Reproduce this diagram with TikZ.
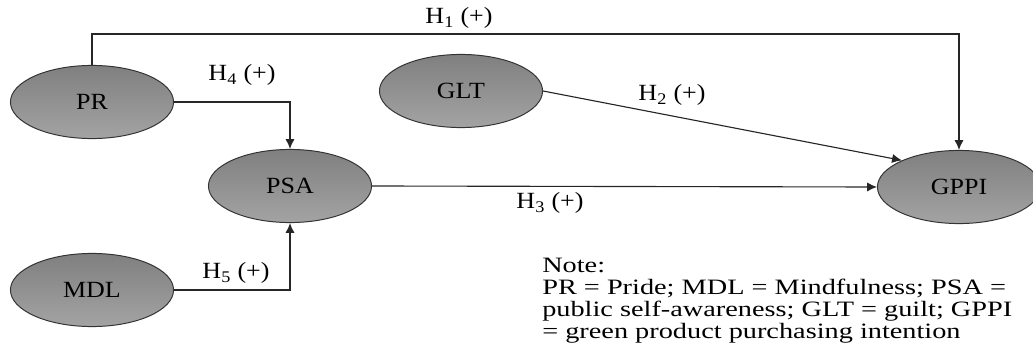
\documentclass[tikz,border=0pt]{standalone}
\usepackage{fontspec}
\setmainfont{Liberation Serif}[FakeStretch=1.12]
\usepackage{tikz}
\usetikzlibrary{arrows.meta,shapes.geometric}

\begin{document}
\begin{tikzpicture}[
		x=0.025cm, y=-0.025cm,
		>={Latex[length=7pt,width=6.5pt]},
		construct/.style={
			ellipse,
			draw=black!80,
			line width=0.7pt,
			top color=black!50,
			bottom color=black!36,
			minimum width=116pt,
			minimum height=52pt,
			inner sep=0pt,
			font=\fontsize{16.5}{18}\selectfont
		},
		hyp/.style={
			font=\fontsize{16.5}{18}\selectfont,
			inner sep=1pt
		},
		arrow/.style={
			->,
			line width=0.8pt,
			draw=black!85
		}
	]
	\useasboundingbox (0,0) rectangle (1033,347);
	
	% Constructs
	\node[construct] (pr) at (92,102) {PR};
	\node[construct] (glt) at (461,91) {GLT};
	\node[construct] (psa) at (290,186) {PSA};
	\node[construct] (mdl) at (92,290) {MDL};
	\node[construct] (gppi) at (959,187) {GPPI};
	
	% Hypothesis labels
	\node[hyp] (h1) at (459,18) {H\textsubscript{1} (+)};
	\node[hyp] (h2) at (672,95) {H\textsubscript{2} (+)};
	\node[hyp] (h3) at (550,203) {H\textsubscript{3} (+)};
	\node[hyp] (h4) at (242,75) {H\textsubscript{4} (+)};
	\node[hyp] (h5) at (236,273) {H\textsubscript{5} (+)};
	
	% Note
	\node[anchor=north west, align=left, inner sep=0pt,
		font=\fontsize{15.6}{15.6}\selectfont\addfontfeature{FakeStretch=1.29}] (note) at (542,258) {%
		Note:\\
		PR = Pride; MDL = Mindfulness; PSA =\\
		public self-awareness; GLT = guilt; GPPI\\
		= green product purchasing intention
	};
	
	% Paths
	\draw[arrow] (pr.north) |- (0,34 -| gppi.north) -- (gppi.north);
	\draw[arrow] (pr.east) -| (psa.north);
	\draw[arrow] (mdl.east) -| (psa.south);
	\draw[arrow] (psa.east) -- (gppi.west);
	\draw[arrow] (glt.east) -- (gppi.155);
	
\end{tikzpicture}
\end{document}
